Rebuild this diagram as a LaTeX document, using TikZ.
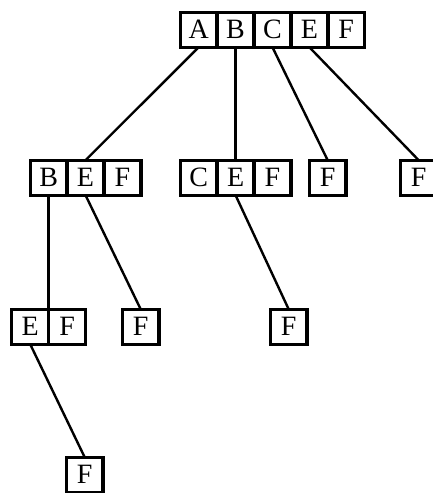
\documentclass[tikz,border=0pt]{standalone}
\usepackage{fontspec}
\setmainfont{Liberation Serif}
\begin{document}
\begin{tikzpicture}[x=1pt,y=-1pt,
  cell/.style={draw, line width=3.4pt, minimum width=36.9pt, minimum height=35pt,
    inner sep=0pt, outer sep=0pt, xshift=1.7pt, yshift=-1.7pt, anchor=north west,
    font=\fontsize{28}{28}\selectfont},
  edge/.style={line width=2.4pt}]
\useasboundingbox (0,0) rectangle (433,493);
\clip (0,0) rectangle (433,493);
% top row
\node[cell] (tA) at (178.5,10.5) {A};
\node[cell] (tB) at (215.4,10.5) {B};
\node[cell] (tC) at (252.3,10.5) {C};
\node[cell] (tE) at (289.2,10.5) {E};
\node[cell] (tF) at (326.1,10.5) {F};
% second row
\node[cell] (bB) at (28.5,158.5) {B};
\node[cell] (bE) at (65.4,158.5) {E};
\node[cell] (bF) at (102.3,158.5) {F};
\node[cell] (cC) at (178.5,158.5) {C};
\node[cell] (cE) at (215.4,158.5) {E};
\node[cell] (cF) at (252.3,158.5) {F};
\node[cell] (dF) at (307.5,158.5) {F};
\node[cell] (eF) at (398.5,158.5) {F};
% third row
\node[cell] (fE) at (10.05,307.5) {E};
\node[cell] (fF) at (46.95,307.5) {F};
\node[cell] (gF) at (120.5,307.5) {F};
\node[cell] (hF) at (268.5,307.5) {F};
% fourth row
\node[cell] (iF) at (64.5,455.5) {F};
% connectors
\draw[edge] (tA.south) -- (bE.north);
\draw[edge] (tB.south) -- (cE.north);
\draw[edge] (tC.south) -- (dF.north);
\draw[edge] (tE.south) -- (eF.north);
\draw[edge] (bB.south) -- (fE.north east);
\draw[edge] (bE.south) -- (gF.north);
\draw[edge] (cE.south) -- (hF.north);
\draw[edge] (fE.south) -- (iF.north);
\end{tikzpicture}
\end{document}
